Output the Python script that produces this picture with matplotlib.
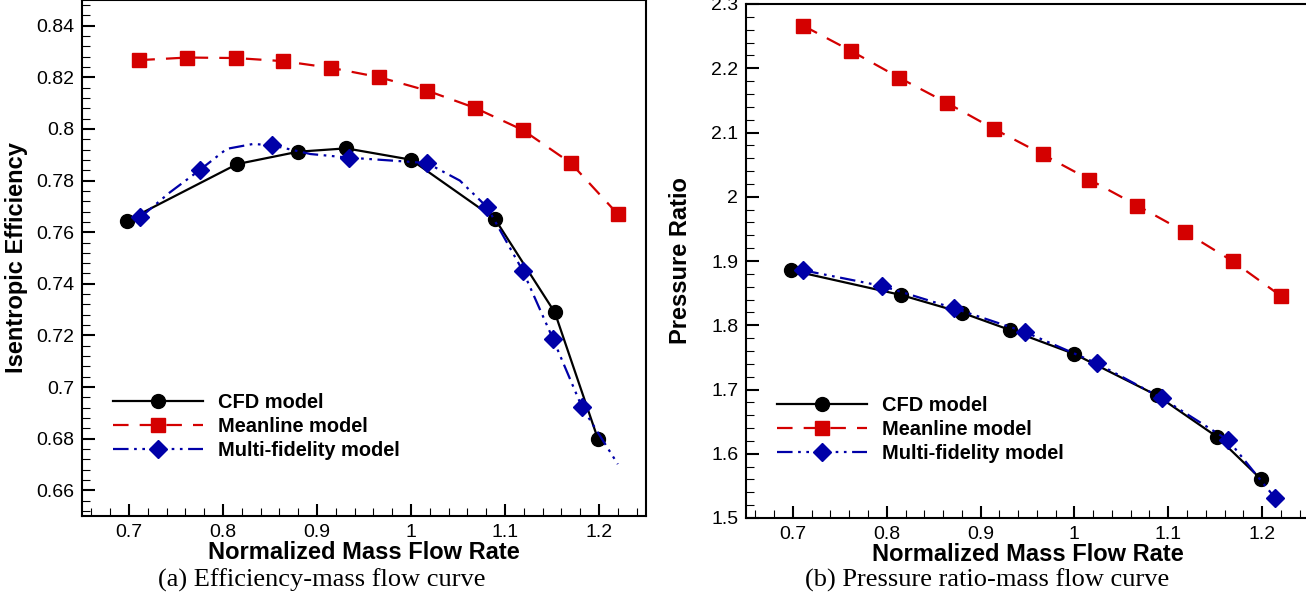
import numpy as np
import matplotlib
matplotlib.use("Agg")
import matplotlib.pyplot as plt
from matplotlib.ticker import MultipleLocator

plt.rcParams["font.family"] = ["Liberation Sans", "DejaVu Sans"]

# ---- (a) efficiency vs normalized mass flow ----
cfd_x_a = [0.698, 0.815, 0.880, 0.931, 1.000, 1.089, 1.153, 1.199]
cfd_y_a = [0.7645, 0.7864, 0.7912, 0.7925, 0.7881, 0.7653, 0.7289, 0.6797]

mean_x_a = [0.711, 0.762, 0.814, 0.864, 0.915, 0.966, 1.017, 1.068, 1.119, 1.170, 1.220]
mean_y_a = [0.8267, 0.8277, 0.8275, 0.8263, 0.8237, 0.8201, 0.8149, 0.8082, 0.7996, 0.7868, 0.7670]

# multi-fidelity curve, markers on a subset of it
mf_x_a = [0.712, 0.743, 0.776, 0.804, 0.832, 0.852, 0.893, 0.934, 0.978, 1.017,
          1.052, 1.081, 1.119, 1.151, 1.182, 1.220]
mf_y_a = [0.7657, 0.7753, 0.7843, 0.7923, 0.7942, 0.7937, 0.7903, 0.7889, 0.7878, 0.7868,
          0.7800, 0.7697, 0.7450, 0.7187, 0.6921, 0.6701]
mf_marks_a = [0, 2, 5, 7, 9, 11, 12, 13, 14]

# ---- (b) pressure ratio vs normalized mass flow ----
cfd_x_b = [0.698, 0.815, 0.880, 0.931, 1.000, 1.088, 1.152, 1.199]
cfd_y_b = [1.8855, 1.8472, 1.8196, 1.7928, 1.7552, 1.6907, 1.6263, 1.5603]

mean_x_b = [0.711, 0.762, 0.813, 0.864, 0.914, 0.966, 1.016, 1.067, 1.118, 1.169, 1.220]
mean_y_b = [2.2662, 2.2269, 2.1855, 2.1462, 2.1058, 2.0660, 2.0267, 1.9863, 1.9450, 1.8994, 1.8456]

mf_x_b = [0.711, 0.795, 0.872, 0.947, 1.024, 1.093, 1.164, 1.214]
mf_y_b = [1.8855, 1.8611, 1.8263, 1.7897, 1.7407, 1.6866, 1.6211, 1.5309]

labels = ["CFD model", "Meanline model", "Multi-fidelity model"]
RED = "#d40000"
BLUE = "#0000a8"

fig = plt.figure(figsize=(13.06, 6.01), dpi=100)
ax1 = fig.add_axes([82 / 1306, 85 / 601, 564 / 1306, 516 / 601])
ax2 = fig.add_axes([746 / 1306, 83 / 601, 563 / 1306, 514 / 601])


def style_axes(ax):
    for s in ax.spines.values():
        s.set_linewidth(1.5)
    ax.tick_params(which="both", direction="in", top=False, right=False, labelsize=14)
    ax.tick_params(which="major", length=9, width=1.5, pad=5.5)
    ax.tick_params(which="minor", length=5.5, width=0.8)
    ax.xaxis.set_major_locator(MultipleLocator(0.1))
    ax.xaxis.set_minor_locator(MultipleLocator(0.02))
    ax.set_xlim(0.65, 1.25)
    ax.set_xlabel("Normalized Mass Flow Rate", fontsize=17, fontweight="bold", labelpad=0)


def draw(ax, cx, cy, mx, my, fx, fy, fmarks):
    ax.plot(cx, cy, color="black", lw=1.6, marker="o", ms=10, label=labels[0], zorder=3)
    ax.plot(mx, my, color=RED, lw=1.6, dashes=(7, 5), marker="s", ms=9.5, label=labels[1], zorder=3)
    ax.plot(fx, fy, color=BLUE, lw=1.6, dashes=(7, 2.5, 1.2, 2.5, 1.2, 2.5), marker="D", ms=9.5,
            markevery=fmarks, label=labels[2], zorder=4)


draw(ax1, cfd_x_a, cfd_y_a, mean_x_a, mean_y_a, mf_x_a, mf_y_a, mf_marks_a)
style_axes(ax1)
ax1.set_ylim(0.65, 0.85)
ax1.yaxis.set_minor_locator(MultipleLocator(0.004))
ax1.set_yticks(np.arange(0.66, 0.841, 0.02))
ax1.set_yticklabels(["0.66", "0.68", "0.7", "0.72", "0.74", "0.76", "0.78", "0.8", "0.82", "0.84"])
ax1.set_xticks([0.7, 0.8, 0.9, 1.0, 1.1, 1.2])
ax1.set_xticklabels(["0.7", "0.8", "0.9", "1", "1.1", "1.2"])
ax1.set_ylabel("Isentropic Efficiency", fontsize=17, fontweight="bold", labelpad=6)

draw(ax2, cfd_x_b, cfd_y_b, mean_x_b, mean_y_b, mf_x_b, mf_y_b, None)
style_axes(ax2)
ax2.set_ylim(1.5, 2.3)
ax2.yaxis.set_minor_locator(MultipleLocator(0.02))
ax2.set_yticks(np.arange(1.5, 2.31, 0.1))
ax2.set_yticklabels(["1.5", "1.6", "1.7", "1.8", "1.9", "2", "2.1", "2.2", "2.3"])
ax2.set_xticks([0.7, 0.8, 0.9, 1.0, 1.1, 1.2])
ax2.set_xticklabels(["0.7", "0.8", "0.9", "1", "1.1", "1.2"])
ax2.set_ylabel("Pressure Ratio", fontsize=17, fontweight="bold", labelpad=14)

for ax, anchor in ((ax1, (0.055, 0.239)), (ax2, (0.055, 0.238))):
    leg = ax.legend(loc="upper left", bbox_to_anchor=anchor, frameon=False, borderpad=0,
                    borderaxespad=0, handlelength=4.5, handletextpad=0.75, labelspacing=0.27,
                    prop={"family": "Liberation Sans", "weight": "bold", "size": 14.4})

fig.text(322 / 1306, 1 - 580 / 601, "(a) Efficiency-mass flow curve", ha="center", va="center",
         fontsize=19, family="Liberation Serif")
fig.text(987 / 1306, 1 - 580 / 601, "(b) Pressure ratio-mass flow curve", ha="center", va="center",
         fontsize=19, family="Liberation Serif")

fig.savefig("out.png", dpi=100)
